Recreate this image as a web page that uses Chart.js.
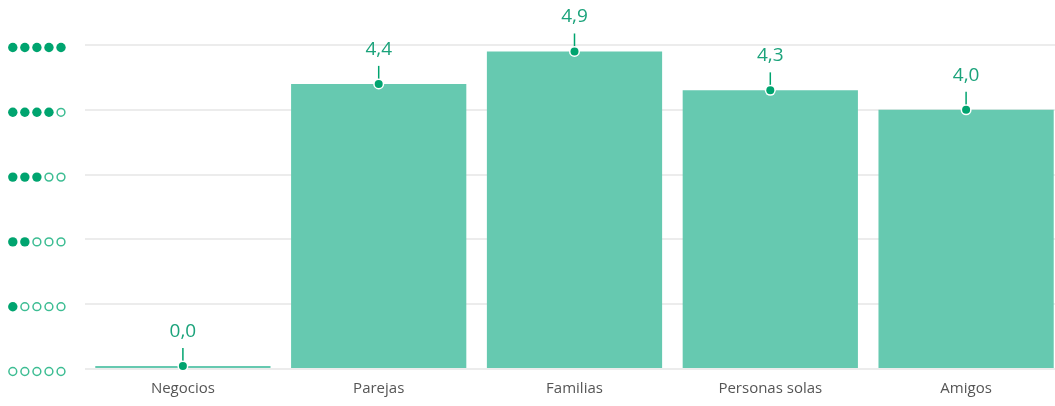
<!DOCTYPE html>
<html lang="es">
<head>
<meta charset="utf-8">
<title>Valoración por tipo de viajero</title>
<script src="https://cdn.jsdelivr.net/npm/chart.js@4/dist/chart.umd.min.js"></script>
<style>
  html, body { margin: 0; padding: 0; background: #ffffff; overflow: hidden; }
  #wrap { position: relative; width: 1064px; height: 406px; }
</style>
</head>
<body>
<div id="wrap"><canvas id="chart"></canvas></div>
<script>
// Traveller types and their average rating (0–5)
const categories = ['Negocios', 'Parejas', 'Familias', 'Personas solas', 'Amigos'];
const ratings = [0.0, 4.4, 4.9, 4.3, 4.0];
// Rating levels shown on the vertical axis as dot icons
const ratingLevels = [0, 1, 2, 3, 4, 5];

const GREEN = '#00a46f';
const GREEN_LIGHT = '#3dbd93';
const LABEL_GREEN = '#1ba37b';
const BAR_FILL = '#66c9b0';

const fmt = v => v.toFixed(1).replace('.', ',');

// Draws a dot marker, a short stem and the value above each bar
const valueMarkers = {
  id: 'valueMarkers',
  afterDatasetsDraw(chart) {
    const ctx = chart.ctx;
    const meta = chart.getDatasetMeta(0);
    ctx.save();
    meta.data.forEach((bar, i) => {
      const x = bar.x, y = bar.y;
      ctx.strokeStyle = GREEN;
      ctx.lineWidth = 1.5;
      ctx.beginPath();
      ctx.moveTo(x, y);
      ctx.lineTo(x, y - 18);
      ctx.stroke();
      ctx.beginPath();
      ctx.arc(x, y, 5.5, 0, Math.PI * 2);
      ctx.fillStyle = '#ffffff';
      ctx.fill();
      ctx.beginPath();
      ctx.arc(x, y, 4, 0, Math.PI * 2);
      ctx.fillStyle = GREEN;
      ctx.fill();
      ctx.fillStyle = LABEL_GREEN;
      ctx.font = '19px "Open Sans", sans-serif';
      ctx.textAlign = 'center';
      ctx.textBaseline = 'alphabetic';
      ctx.fillText(fmt(ratings[i]), x, y - 29);
    });
    ctx.restore();
  }
};

// Draws the rating level as five dots (filled / hollow) beside each gridline
const ratingIcons = {
  id: 'ratingIcons',
  afterDraw(chart) {
    const ctx = chart.ctx;
    const yScale = chart.scales.y;
    ctx.save();
    ratingLevels.forEach(level => {
      const cy = yScale.getPixelForValue(level) + 2.5;
      for (let k = 0; k < 5; k++) {
        const cx = 12.8 + k * 12.05;
        ctx.beginPath();
        if (k < level) {
          ctx.arc(cx, cy, 4.7, 0, Math.PI * 2);
          ctx.fillStyle = GREEN;
          ctx.fill();
        } else {
          ctx.arc(cx, cy, 3.9, 0, Math.PI * 2);
          ctx.strokeStyle = GREEN_LIGHT;
          ctx.lineWidth = 1.5;
          ctx.stroke();
        }
      }
    });
    ctx.restore();
  }
};

new Chart(document.getElementById('chart'), {
  type: 'bar',
  data: {
    labels: categories,
    datasets: [{
      data: ratings,
      backgroundColor: BAR_FILL,
      borderWidth: 0,
      barPercentage: 0.895,
      categoryPercentage: 1.0,
      minBarLength: 3
    }]
  },
  options: {
    responsive: true,
    maintainAspectRatio: false,
    animation: false,
    layout: { padding: { left: 85, top: 45, right: 0, bottom: 0 } },
    plugins: {
      legend: { display: false },
      tooltip: { enabled: false }
    },
    scales: {
      x: {
        grid: { display: false, drawTicks: false },
        border: { display: false },
        ticks: {
          color: '#555555',
          font: { family: '"Open Sans", sans-serif', size: 15 },
          padding: 11
        },
        afterFit(scale) { scale.height = 37; }
      },
      y: {
        min: 0,
        max: 5,
        ticks: { display: false, stepSize: 1 },
        grid: { color: '#ececec', lineWidth: 2, drawTicks: false },
        border: { display: false },
        afterFit(scale) { scale.width = 0; }
      }
    }
  },
  plugins: [valueMarkers, ratingIcons]
});
</script>
</body>
</html>
